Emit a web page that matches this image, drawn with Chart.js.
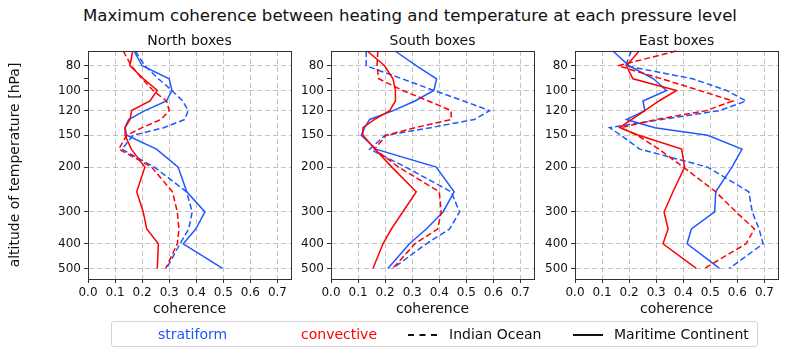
<!DOCTYPE html>
<html><head><meta charset="utf-8">
<script src="https://cdn.jsdelivr.net/npm/chart.js@4"></script>
<style>
html,body{margin:0;padding:0;background:#fff;}
body{width:800px;height:354px;overflow:hidden;position:relative;font-family:'DejaVu Sans',sans-serif;}
canvas{position:absolute;top:0;}
#title{position:absolute;top:6px;left:10px;width:800px;text-align:center;font-size:16.6px;line-height:20px;color:#111;}
.sub{position:absolute;top:32px;width:203px;text-align:center;font-size:14px;line-height:16px;color:#111;}
#legend{position:absolute;left:111px;top:321px;width:647px;height:26px;border:1px solid #d4d4d4;border-radius:3px;box-sizing:border-box;font-size:14px;}
.li{position:absolute;top:3px;line-height:18px;white-space:nowrap;color:#111;}
.ln{position:absolute;top:12px;height:0;}
</style></head><body>
<div id="title">Maximum coherence between heating and temperature at each pressure level</div>
<canvas id="c1" width="300" height="354" style="left:0px"></canvas>
<canvas id="c2" width="244" height="354" style="left:296px"></canvas>
<canvas id="c3" width="260" height="354" style="left:540px"></canvas>
<div class="sub" id="s1" style="left:88px"></div>
<div class="sub" id="s2" style="left:331px"></div>
<div class="sub" id="s3" style="left:575px"></div>
<div id="legend">
  <span class="li" style="left:46px;color:#1f57ff">stratiform</span>
  <span class="li" style="left:189px;color:#ff0000">convective</span>
  <span class="ln" style="left:296px;width:29px;border-top:2px dashed #111"></span>
  <span class="li" style="left:337px">Indian Ocean</span>
  <span class="ln" style="left:461px;width:30px;border-top:2px solid #111"></span>
  <span class="li" style="left:502px">Maritime Continent</span>
</div>
<script>
// pressure levels (hPa)
const levels = [70, 80, 90, 100, 110, 120, 130, 140, 150, 170, 200, 250, 300, 350, 400, 500];
const yTicks = [80, 90, 100, 120, 150, 200, 300, 400, 500];
const xTicks = [0, 0.1, 0.2, 0.3, 0.4, 0.5, 0.6, 0.7];
const panelTitles = ['North boxes', 'South boxes', 'East boxes'];

// North boxes
const northStratMC = [0.17, 0.20, 0.30, 0.31, 0.29, 0.21, 0.15, 0.137, 0.143, 0.253, 0.333, 0.365, 0.432, 0.398, 0.352, 0.497];
const northConvMC  = [0.165, 0.155, 0.205, 0.256, 0.229, 0.161, 0.155, 0.137, 0.137, 0.16, 0.21, 0.18, 0.204, 0.217, 0.26, 0.256];
const northStratIO = [0.175, 0.21, 0.26, 0.31, 0.35, 0.37, 0.358, 0.28, 0.167, 0.125, 0.245, 0.364, 0.385, 0.372, 0.34, 0.29];
const northConvIO  = [0.13, 0.16, 0.20, 0.24, 0.29, 0.30, 0.27, 0.20, 0.143, 0.114, 0.235, 0.312, 0.33, 0.336, 0.33, 0.287];

// South boxes
const southStratMC = [0.237, 0.316, 0.39, 0.38, 0.31, 0.23, 0.143, 0.124, 0.112, 0.165, 0.389, 0.455, 0.414, 0.352, 0.29, 0.21];
const southConvMC  = [0.134, 0.198, 0.229, 0.238, 0.238, 0.217, 0.161, 0.118, 0.118, 0.163, 0.225, 0.315, 0.265, 0.223, 0.192, 0.155];
const southStratIO = [0.13, 0.13, 0.263, 0.38, 0.49, 0.586, 0.53, 0.368, 0.2, 0.143, 0.276, 0.444, 0.475, 0.438, 0.352, 0.228];
const southConvIO  = [0.173, 0.17, 0.176, 0.265, 0.36, 0.444, 0.444, 0.31, 0.204, 0.161, 0.25, 0.40, 0.407, 0.394, 0.31, 0.228];

// East boxes
const eastStratMC = [0.14, 0.20, 0.29, 0.338, 0.251, 0.258, 0.19, 0.295, 0.49, 0.617, 0.58, 0.52, 0.516, 0.43, 0.414, 0.534];
const eastConvMC  = [0.237, 0.19, 0.214, 0.375, 0.31, 0.258, 0.21, 0.165, 0.235, 0.394, 0.405, 0.362, 0.329, 0.344, 0.325, 0.448];
const eastStratIO = [0.208, 0.187, 0.435, 0.56, 0.632, 0.534, 0.32, 0.128, 0.17, 0.239, 0.49, 0.642, 0.655, 0.68, 0.695, 0.57];
const eastConvIO  = [0.374, 0.159, 0.32, 0.46, 0.583, 0.485, 0.30, 0.17, 0.23, 0.31, 0.40, 0.52, 0.595, 0.663, 0.632, 0.478];

const BLUE = '#1f57ff', RED = '#ff0000';
const FONT = "'DejaVu Sans', sans-serif";
const GRID = 'rgba(176,176,176,0.75)';
const AX = '#333333';

['s1','s2','s3'].forEach((id,i)=>{ document.getElementById(id).textContent = panelTitles[i]; });

function pts(vals){ return vals.map((v,i)=>({x:v, y:levels[i]})); }

const framePlugin = {
  id:'frame',
  afterDraw(chart){
    const a = chart.chartArea, ctx = chart.ctx;
    ctx.save(); ctx.strokeStyle = AX; ctx.lineWidth = 1;
    ctx.strokeRect(Math.round(a.left)+0.5, Math.round(a.top)+0.5, Math.round(a.right-a.left), Math.round(a.bottom-a.top));
    ctx.restore();
  }
};

function makePanel(id, series, yWidth, padRight, showYTitle){
  const ds = [
    {data: pts(series.convMC), borderColor: RED, borderDash: []},
    {data: pts(series.convIO), borderColor: RED, borderDash: [6,3]},
    {data: pts(series.stratMC), borderColor: BLUE, borderDash: []},
    {data: pts(series.stratIO), borderColor: BLUE, borderDash: [6,3]},
  ].map(d => Object.assign(d, {borderWidth:1.5, pointRadius:0, tension:0, fill:false, clip:8}));
  return new Chart(document.getElementById(id), {
    type:'line',
    data:{datasets: ds},
    options:{
      responsive:false, animation:false, devicePixelRatio:1,
      layout:{padding:{left:0, right:padRight, top:51, bottom:0}},
      plugins:{ legend:{display:false}, tooltip:{enabled:false}, title:{display:false} },
      scales:{
        x:{type:'linear', min:0, max:0.75,
           afterBuildTicks(s){ s.ticks = xTicks.map(v=>({value:v})); },
           afterFit(s){ s.height = 75; },
           ticks:{color:'#111', font:{family:FONT, size:12}, padding:3, maxRotation:0, autoSkip:false,
                  callback:(v)=>Number(v).toFixed(1)},
           grid:{color:GRID, lineWidth:1, tickLength:4, tickColor:AX, drawOnChartArea:true},
           border:{display:true, color:AX, width:1, dash:[5,3]},
           title:{display:true, text:'coherence', color:'#111', font:{family:FONT, size:14}, padding:{top:0, bottom:36}}
        },
        y:{type:'logarithmic', reverse:true, min:70, max:550,
           afterBuildTicks(s){ s.ticks = yTicks.map(v=>({value:v, major: v!==90})); },
           afterFit(s){ s.width = yWidth; },
           ticks:{color:'#111', font:{family:FONT, size:12}, padding:3, autoSkip:false,
                  callback:(v)=> v===90 ? '' : String(v)},
           grid:{color:(c)=> (c.tick && c.tick.value===90) ? 'rgba(0,0,0,0)' : GRID,
                 lineWidth:1, tickLength:4, tickColor:AX},
           border:{display:true, color:AX, width:1, dash:[5,3]},
           title:{display:showYTitle, text:'altitude of temperature [hPa]', color:'#111', font:{family:FONT, size:14}, padding:{top:7, bottom:0}}
        }
      }
    },
    plugins:[framePlugin]
  });
}

makePanel('c1', {stratMC:northStratMC, convMC:northConvMC, stratIO:northStratIO, convIO:northConvIO}, 88, 9, true);
makePanel('c2', {stratMC:southStratMC, convMC:southConvMC, stratIO:southStratIO, convIO:southConvIO}, 35, 6, false);
makePanel('c3', {stratMC:eastStratMC, convMC:eastConvMC, stratIO:eastStratIO, convIO:eastConvIO}, 35, 22, false);
</script>
</body></html>
